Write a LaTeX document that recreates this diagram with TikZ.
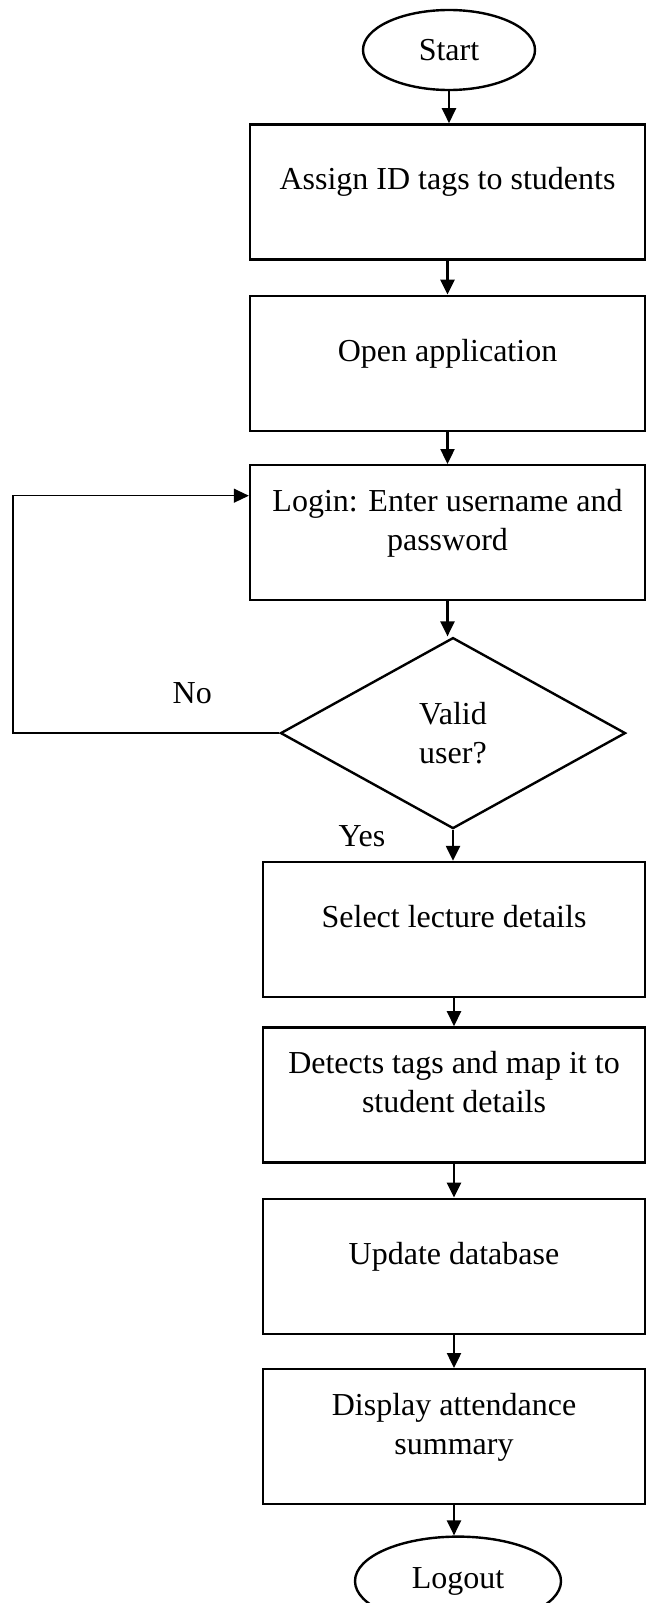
\documentclass[tikz,border=0pt]{standalone}
\usepackage{fontspec}
\setmainfont{Liberation Serif}
\usetikzlibrary{arrows.meta,positioning,shapes.geometric}
\newcommand{\boxtext}[1]{\raisebox{10pt}[\height][\depth]{\begin{tabular}{@{}c@{}}#1\end{tabular}}}

\begin{document}
\begin{tikzpicture}[
    >={Triangle[length=15pt,width=14pt]},
    font=\fontsize{32}{39}\selectfont,
    line width=2.4pt,
    termnode/.style={draw,ellipse,inner sep=0pt},
    procbox/.style={draw,rectangle,minimum width=395pt,minimum height=135pt,inner sep=0pt},
    lowbox/.style={procbox,minimum width=382pt},
    decide/.style={draw,diamond,minimum width=345pt,minimum height=191pt,inner sep=0pt}]
  \useasboundingbox (0,0) rectangle (646pt,-1603pt);
  \node[termnode,minimum width=172pt,minimum height=80pt] (start) at (449pt,-50pt) {Start};
  \node[procbox,below=32pt of start,xshift=-1.5pt] (assign) {\boxtext{Assign ID tags to students}};
  \node[procbox,below=34pt of assign] (openapp) {\boxtext{Open application}};
  \node[procbox,below=32pt of openapp] (login) {\boxtext{Login: Enter username and\\password}};
  \node[decide,below=35pt of login,xshift=5.5pt,align=center] (valid) {Valid\\user?};
  \node[lowbox,below=31pt of valid,xshift=1pt] (select) {\boxtext{Select lecture details}};
  \node[lowbox,below=28pt of select] (detects) {\boxtext{Detects tags and map it to\\student details}};
  \node[lowbox,below=34pt of detects] (update) {\boxtext{Update database}};
  \node[lowbox,below=33pt of update] (display) {\boxtext{Display attendance\\summary}};
  \node[termnode,minimum width=206pt,minimum height=89pt,below=30pt of display,xshift=4pt] (logout) {Logout};
  % main flow
  \foreach \a/\b in {start/assign,assign/openapp,openapp/login,login/valid,valid/select,
      select/detects,detects/update,update/display,display/logout}
    \draw[->] (\a.south) -- (\a.south |- \b.north);
  % invalid user goes back to login
  \coordinate (loopleft) at (13pt,0);
  \draw[->,line width=1.3pt] (valid.west) -- (valid.west -| loopleft) |- ([yshift=37pt]login.west);
  \node (nolbl) at ([xshift=-87pt,yshift=40pt]valid.west) {No};
  \node (yeslbl) at ([xshift=-91pt,yshift=-6pt]valid.south) {Yes};
\end{tikzpicture}
\end{document}
